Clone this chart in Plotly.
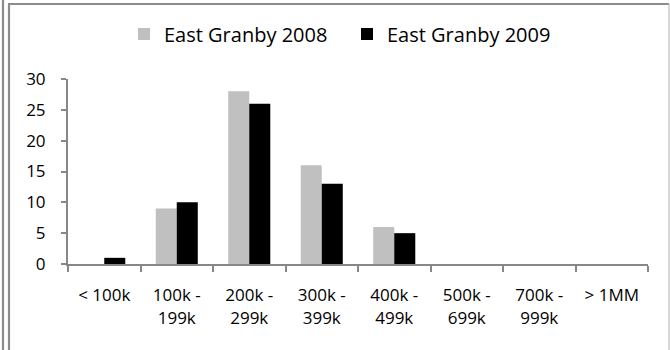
import plotly.graph_objects as go

# Home sales by price band, East Granby
price_bands = ["< 100k", "100k -<br>199k", "200k -<br>299k", "300k -<br>399k",
               "400k -<br>499k", "500k -<br>699k", "700k -<br>999k", "> 1MM"]
sales_2008 = [0, 9, 28, 16, 6, 0, 0, 0]
sales_2009 = [1, 10, 26, 13, 5, 0, 0, 0]
y_ticks = [0, 5, 10, 15, 20, 25, 30]

W, H = 670, 350
ML, MR, MT, MB = 68, 22, 79, 86
PW, PH = W - ML - MR, H - MT - MB

def px_x(p):
    return (p - ML) / PW

def px_y(p):
    return (H - MB - p) / PH

FONT = "Open Sans"
AXIS_GREY = "#878787"

fig = go.Figure()
fig.add_trace(go.Bar(name="East Granby 2008", x=price_bands, y=sales_2008,
                     marker=dict(color="#c0c0c0", line=dict(width=0))))
fig.add_trace(go.Bar(name="East Granby 2009", x=price_bands, y=sales_2009,
                     marker=dict(color="#000000", line=dict(width=0))))

# Frame around the chart: double rule on the left, rule on top and right
frame = [
    dict(x0=px_x(3), x1=px_x(3), y0=px_y(0), y1=px_y(H), w=2.2, c="#8c8c8c"),
    dict(x0=px_x(9), x1=px_x(9), y0=px_y(4), y1=px_y(H), w=2.2, c="#8c8c8c"),
    dict(x0=px_x(8), x1=px_x(669), y0=px_y(4), y1=px_y(4), w=2.2, c="#8c8c8c"),
    dict(x0=px_x(669), x1=px_x(669), y0=px_y(4), y1=px_y(H), w=1.2, c="#bdbdbd"),
]
shapes = [dict(type="line", xref="paper", yref="paper",
               x0=f["x0"], x1=f["x1"], y0=f["y0"], y1=f["y1"],
               line=dict(color=f["c"], width=f["w"]), layer="above")
          for f in frame]

fig.update_layout(
    width=W, height=H,
    margin=dict(l=ML, r=MR, t=MT, b=MB, pad=0),
    paper_bgcolor="white", plot_bgcolor="white",
    barmode="group", bargap=0.42, bargroupgap=0,
    font=dict(family=FONT, color="#000000", size=17),
    showlegend=True,
    legend=dict(orientation="h", x=px_x(124), xanchor="left",
                y=px_y(34), yanchor="middle",
                font=dict(family=FONT, size=20, color="#000000"),
                bgcolor="rgba(0,0,0,0)", traceorder="normal",
                itemwidth=30, entrywidth=178, entrywidthmode="pixels"),
    shapes=shapes,
    xaxis=dict(showgrid=False, zeroline=False, showline=True,
               linecolor=AXIS_GREY, linewidth=2,
               ticks="outside", tickson="boundaries", ticklen=6,
               tickwidth=2, tickcolor=AXIS_GREY,
               tickfont=dict(family=FONT, size=17, color="#000000"),
               ticklabelstandoff=15),
    yaxis=dict(range=[0, 30], tickvals=y_ticks, showgrid=False,
               zeroline=False, showline=True, linecolor=AXIS_GREY,
               linewidth=2, ticks="outside", ticklen=5, tickwidth=2,
               tickcolor=AXIS_GREY,
               tickfont=dict(family=FONT, size=17, color="#000000"),
               ticklabelstandoff=12),
)

fig.write_html("out.html")
